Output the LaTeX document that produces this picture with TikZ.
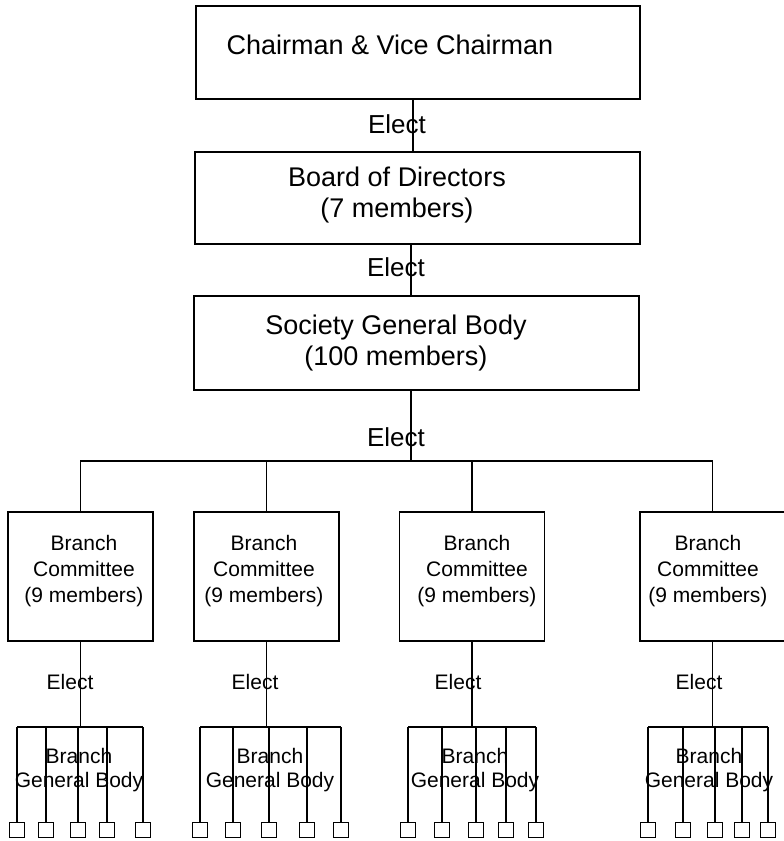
\documentclass[tikz,border=0pt]{standalone}
\usepackage{fontspec}
\setmainfont{Liberation Sans}

\tikzset{
  box/.style={draw,line width=1.4pt,inner sep=0pt},
  bigtxt/.style={align=center,inner sep=0pt,font=\fontsize{27}{31}\selectfont},
  smalltxt/.style={align=center,inner sep=0pt,font=\fontsize{21}{26}\selectfont},
  electtop/.style={inner sep=0pt,font=\fontsize{26}{30}\selectfont},
  electlow/.style={inner sep=0pt,font=\fontsize{21}{25}\selectfont},
  member/.style={draw,line width=1.3pt,minimum size=15pt,inner sep=0pt},
  line/.style={line width=1.4pt},
}

\begin{document}
\begin{tikzpicture}[x=1pt,y=-1pt]
	\useasboundingbox (0,0) rectangle (784,841);
	% obere Kaesten
	\node[box,minimum width=444pt,minimum height=93pt] (chair) at (418,52.5) {};
	\node[box,minimum width=445pt,minimum height=92pt] (board) at (417.5,198) {};
	\node[box,minimum width=445pt,minimum height=94pt] (society) at (416.5,343) {};
	\node[bigtxt] (chairtxt) at (390,45) {Chairman \& Vice Chairman};
	\node[bigtxt] (boardtxt) at (397,195) {Board of Directors\\(7 members)};
	\node[bigtxt] (societytxt) at (396,343) {Society General Body\\(100 members)};
	% Verbindungen oben
	\draw[line] ([xshift=-5pt]chair.south) -- ([xshift=-4.5pt]board.north);
	\draw[line] ([xshift=-6.5pt]board.south) -- ([xshift=-5.5pt]society.north);
	\node[electtop] (e1) at (397,124) {Elect};
	\node[electtop] (e2) at (396,267) {Elect};
	\node[electtop] (e3) at (396,437) {Elect};
	% Zweigkomitees
	\foreach \g/\x in {1/80.5,2/266.5,3/472,4/712.5}
		\node[box,minimum width=145pt,minimum height=129pt] (b\g) at (\x,576.5) {};
	\coordinate (bus) at (411,461);
	\draw[line] ([xshift=-5.5pt]society.south) -- (bus);
	\draw[line] (b1.north) |- (bus) -| (b4.north);
	\draw[line] (b2.north) -- (b2.north |- bus);
	\draw[line] (b3.north) -- (b3.north |- bus);
	\foreach \g/\x in {1/84,2/264,3/477,4/708}
		\node[smalltxt] (bt\g) at (\x,571) {Branch\\Committee\\(9 members)};
	% Mitglieder
	\foreach \g/\xa/\xb/\xc/\xd/\xe/\ex/\gx in {1/17/46/78/107/143/70/79,
		2/200/233/269/307/341/255/270, 3/408/442/476/506/536/458/475,
		4/648/683/715/742/768/699/709} {
		\foreach \x [count=\k] in {\xa,\xb,\xc,\xd,\xe} {
			\node[member] (m\g-\k) at (\x,830) {};
			\draw[line] (m\g-\k.north) -- (\x,727);
		}
		\draw[line] (m\g-1.north |- 0,727) -- (m\g-5.north |- 0,727);
		\draw[line] (b\g.south) -- (b\g.south |- 0,727);
		\node[electlow] (el\g) at (\ex,682) {Elect};
		\node[smalltxt,font=\fontsize{21}{24}\selectfont] (gb\g) at (\gx,770) {Branch\\General Body};
	}
\end{tikzpicture}
\end{document}
